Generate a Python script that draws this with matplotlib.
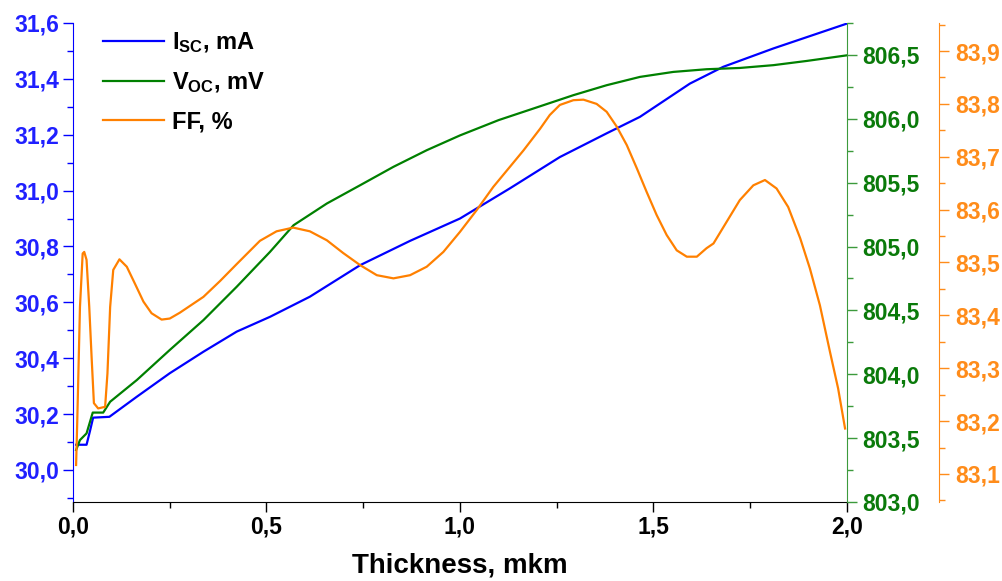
import matplotlib
matplotlib.use("Agg")
import matplotlib.pyplot as plt
from matplotlib.ticker import MultipleLocator, FuncFormatter

# Short-circuit current vs absorber thickness
isc_x = [0.008, 0.035, 0.044, 0.052, 0.094, 0.165, 0.25, 0.337, 0.423, 0.509,
         0.612, 0.742, 0.871, 1.0, 1.129, 1.258, 1.379, 1.465, 1.594, 1.68,
         1.81, 2.0]
isc_y = [30.09, 30.09, 30.14, 30.187, 30.19, 30.262, 30.346, 30.423, 30.495, 30.548,
         30.62, 30.733, 30.82, 30.90, 31.008, 31.12, 31.205, 31.264, 31.383, 31.443,
         31.509, 31.598]

# Open-circuit voltage
voc_x = [0.008, 0.018, 0.035, 0.051, 0.078, 0.096, 0.165, 0.25, 0.337, 0.423,
         0.509, 0.57, 0.656, 0.742, 0.828, 0.914, 1.0, 1.1, 1.207, 1.293,
         1.379, 1.465, 1.551, 1.637, 1.723, 1.81, 1.896, 2.0]
voc_y = [803.407, 803.485, 803.537, 803.70, 803.70, 803.785, 803.955, 804.19, 804.424, 804.685,
         804.958, 805.167, 805.337, 805.48, 805.624, 805.754, 805.87, 805.99, 806.098, 806.185,
         806.263, 806.328, 806.367, 806.388, 806.398, 806.42, 806.453, 806.497]

# Fill factor
ff_x = [0.008, 0.011, 0.018, 0.025, 0.029, 0.035, 0.042, 0.048, 0.054, 0.065,
        0.083, 0.089, 0.096, 0.104, 0.12, 0.139, 0.16, 0.182, 0.203, 0.229,
        0.25, 0.276, 0.337, 0.38, 0.423, 0.483, 0.526, 0.569, 0.612, 0.656,
        0.698, 0.742, 0.785, 0.828, 0.871, 0.914, 0.957, 1.0, 1.043, 1.086,
        1.129, 1.164, 1.207, 1.232, 1.258, 1.293, 1.319, 1.353, 1.379, 1.405,
        1.431, 1.457, 1.482, 1.508, 1.534, 1.56, 1.586, 1.612, 1.637, 1.655,
        1.689, 1.723, 1.758, 1.788, 1.818, 1.848, 1.879, 1.904, 1.93, 1.956,
        1.977, 1.995]
ff_y = [83.117, 83.20, 83.416, 83.517, 83.52, 83.505, 83.416, 83.322, 83.234, 83.224,
        83.227, 83.29, 83.416, 83.486, 83.506, 83.492, 83.46, 83.426, 83.404, 83.392,
        83.394, 83.405, 83.435, 83.465, 83.497, 83.541, 83.559, 83.566, 83.559, 83.542,
        83.518, 83.495, 83.476, 83.47, 83.476, 83.492, 83.52, 83.558, 83.599, 83.643,
        83.681, 83.712, 83.753, 83.779, 83.798, 83.807, 83.808, 83.80, 83.785, 83.757,
        83.722, 83.678, 83.634, 83.59, 83.552, 83.523, 83.511, 83.511, 83.527, 83.536,
        83.577, 83.618, 83.646, 83.656, 83.64, 83.605, 83.546, 83.489, 83.419, 83.331,
        83.262, 83.186]

BLUE = "#0000ff"
GREEN = "#008000"
ORANGE = "#ff8000"
BLUE_TXT = "#2020ff"
GREEN_TXT = "#0a7a0a"
ORANGE_TXT = "#ff8c1a"

plt.rcParams["font.family"] = ["Liberation Sans", "DejaVu Sans"]
plt.rcParams["font.weight"] = "bold"
plt.rcParams["mathtext.fontset"] = "custom"
plt.rcParams["mathtext.rm"] = "Liberation Sans:bold"
plt.rcParams["mathtext.it"] = "Liberation Sans:bold"
plt.rcParams["mathtext.bf"] = "Liberation Sans:bold"

fig = plt.figure(figsize=(10.03, 5.81), dpi=100)
ax = fig.add_axes([73 / 1003, 1 - 502 / 581, 774 / 1003, 479 / 581])
ax2 = ax.twinx()
ax3 = ax.twinx()


def comma(dec):
    return FuncFormatter(lambda v, p: f"{v:.{dec}f}".replace(".", ","))


l1, = ax.plot(isc_x, isc_y, color=BLUE, lw=1.6, label=r"$\mathrm{I_{SC}}$, mA")
l2, = ax2.plot(voc_x, voc_y, color=GREEN, lw=1.6, label=r"$\mathrm{V_{OC}}$, mV")
l3, = ax3.plot(ff_x, ff_y, color=ORANGE, lw=1.6, label="FF, %")

ax.set_xlim(0, 2.0)
ax.set_ylim(29.885, 31.6)
ax2.set_ylim(803.0, 806.75)
ax3.set_ylim(83.047, 83.953)

TICK_FS = 16.5

# x axis
ax.xaxis.set_major_locator(MultipleLocator(0.5))
ax.xaxis.set_minor_locator(MultipleLocator(0.25))
ax.xaxis.set_major_formatter(comma(1))
ax.tick_params(axis="x", which="major", length=7, width=1, labelsize=TICK_FS, pad=3)
ax.tick_params(axis="x", which="minor", length=4, width=1)
ax.set_xlabel("Thickness, mkm", fontsize=20, fontweight="bold", labelpad=10)

# left axis (current)
ax.yaxis.set_major_locator(MultipleLocator(0.2))
ax.yaxis.set_minor_locator(MultipleLocator(0.1))
ax.yaxis.set_major_formatter(comma(1))
ax.tick_params(axis="y", which="both", colors=BLUE, labelcolor=BLUE_TXT, width=1)
ax.tick_params(axis="y", which="major", length=7, labelsize=TICK_FS, pad=3)
ax.tick_params(axis="y", which="minor", length=4)
ax.spines["left"].set_color(BLUE)
ax.spines["top"].set_visible(False)
ax.spines["right"].set_visible(False)

# middle axis (voltage)
ax2.yaxis.set_major_locator(MultipleLocator(0.5))
ax2.yaxis.set_minor_locator(MultipleLocator(0.25))
ax2.yaxis.set_major_formatter(comma(1))
ax2.tick_params(axis="y", which="both", colors="#3c9a3c", labelcolor=GREEN_TXT, width=1)
ax2.tick_params(axis="y", which="major", length=7, labelsize=TICK_FS, pad=4)
ax2.tick_params(axis="y", which="minor", length=4)
ax2.spines["right"].set_color("#3c9a3c")
for s in ("top", "left", "bottom"):
    ax2.spines[s].set_visible(False)

# outer axis (fill factor)
ax3.spines["right"].set_position(("axes", 1 + 92 / 774))
ax3.yaxis.set_major_locator(MultipleLocator(0.1))
ax3.yaxis.set_minor_locator(MultipleLocator(0.05))
ax3.yaxis.set_major_formatter(comma(1))
ax3.tick_params(axis="y", which="both", colors=ORANGE_TXT, labelcolor=ORANGE_TXT, width=1)
ax3.tick_params(axis="y", which="major", length=7, labelsize=TICK_FS, pad=5)
ax3.tick_params(axis="y", which="minor", length=4)
ax3.spines["right"].set_color(ORANGE_TXT)
for s in ("top", "left", "bottom"):
    ax3.spines[s].set_visible(False)

leg = ax3.legend(handles=[l1, l2, l3], loc="upper left", bbox_to_anchor=(0.0388, 0.985),
                 frameon=False, handlelength=2.6, handletextpad=0.3,
                 labelspacing=0.65, borderpad=0, borderaxespad=0,
                 prop={"weight": "bold", "size": 17})

fig.savefig("out.png", dpi=100)
